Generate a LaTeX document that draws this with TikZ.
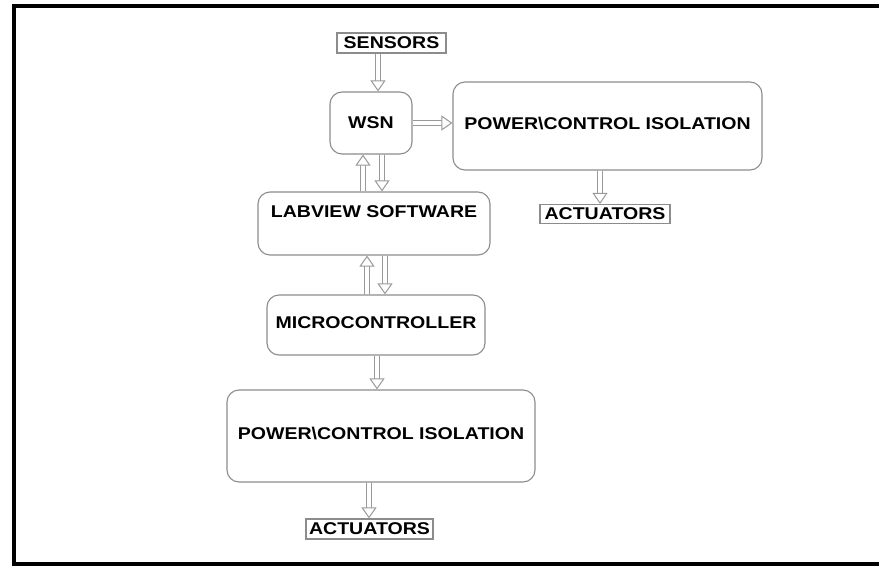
\documentclass[tikz,border=0pt]{standalone}
\usepackage{fontspec}
\setmainfont{Liberation Sans}[FakeStretch=1.15]
\usetikzlibrary{arrows.meta}

\begin{document}
\begin{tikzpicture}[x=1pt,y=-1pt,
  box/.style={draw=gray!90,line width=1.1pt,rounded corners=12pt,font=\fontsize{17}{20}\selectfont\bfseries},
  tag/.style={draw=gray!90,line width=1.1pt,inner sep=0pt,font=\fontsize{17}{20}\selectfont\bfseries},
  flow/.style={draw=gray!80,line width=1pt,double,double distance=4.5pt,-{Triangle[open,width=15pt,length=11pt,line width=1pt,fill=white]}}]
\useasboundingbox (0,0) rectangle (879,568);
\draw [line width=4pt] (14,6) rectangle (885,564);
\node [tag,minimum width=109,minimum height=20] (sensors) at (391.5,43) {SENSORS};
\node [box,minimum width=82,minimum height=62] (wsn) at (371,123) {WSN};
\node [box,minimum width=309,minimum height=88,text depth=6pt] (powertop) at (607.5,126) {POWER\textbackslash CONTROL ISOLATION};
\node [tag,minimum width=130,minimum height=19] (acttop) at (605,214) {ACTUATORS};
\node [box,minimum width=232,minimum height=63,text depth=23pt] (labview) at (374,223.5) {LABVIEW SOFTWARE};
\node [box,minimum width=218,minimum height=60,text depth=4pt] (micro) at (376,325) {MICROCONTROLLER};
\node [box,minimum width=308,minimum height=92,text depth=6pt] (powerbot) at (381,436) {POWER\textbackslash CONTROL ISOLATION};
\node [tag,minimum width=127,minimum height=20] (actbot) at (369.5,529) {ACTUATORS};
\draw [flow] (378,0 |- sensors.south) -- (378,0 |- wsn.north);
\draw [flow] (wsn.east) -- (wsn.east -| powertop.west);
\draw [flow] (363,0 |- labview.north) -- (363,0 |- wsn.south);
\draw [flow] (382,0 |- wsn.south) -- (382,0 |- labview.north);
\draw [flow] (367,0 |- micro.north) -- (367,0 |- labview.south);
\draw [flow] (385,0 |- labview.south) -- (385,0 |- micro.north);
\draw [flow] (377,0 |- micro.south) -- (377,0 |- powerbot.north);
\draw [flow] (600,0 |- powertop.south) -- (600,0 |- acttop.north);
\draw [flow] (369,0 |- powerbot.south) -- (369,0 |- actbot.north);
\end{tikzpicture}
\end{document}
